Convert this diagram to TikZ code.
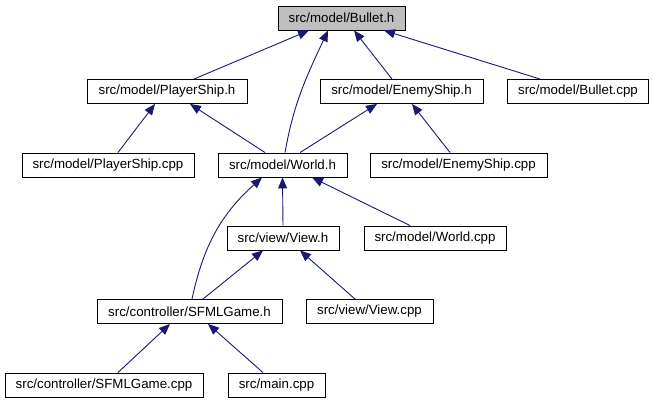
\documentclass[tikz,border=0pt]{standalone}
\usepackage{fontspec}
\setmainfont{Liberation Sans}
\usetikzlibrary{arrows.meta,calc}
\definecolor{incl}{RGB}{25,25,112}
\tikzset {
  >={Triangle[length=11pt,width=9pt]},
  every node/.style={font=\fontsize{13.3}{16}\selectfont},
  file/.style={draw,line width=0.9pt,minimum height=24pt,inner sep=0pt},
  dep/.style={->,draw=incl,fill=none,line width=0.9pt},
}

\begin{document}
\begin{tikzpicture}[x=1pt,y=-1pt]
  \useasboundingbox (0,0) rectangle (654,403);
  % files
  \node[file,fill=gray!50,minimum width=127pt] (bullet_h) at (341.5,18) {src/model/Bullet.h};
  \node[file,minimum width=160pt] (pship_h) at (167,91.5) {src/model/PlayerShip.h};
  \node[file,minimum width=163pt] (eship_h) at (401.5,91.5) {src/model/EnemyShip.h};
  \node[file,minimum width=141pt] (bullet_cpp) at (578,91.5) {src/model/Bullet.cpp};
  \node[file,minimum width=172pt] (pship_cpp) at (108,165) {src/model/PlayerShip.cpp};
  \node[file,minimum width=129pt] (world_h) at (282.5,165) {src/model/World.h};
  \node[file,minimum width=177pt] (eship_cpp) at (458.5,165) {src/model/EnemyShip.cpp};
  \node[file,minimum width=112pt] (view_h) at (283,238) {src/view/View.h};
  \node[file,minimum width=142pt] (world_cpp) at (435,238) {src/model/World.cpp};
  \node[file,minimum width=185pt] (sfml_h) at (189.5,311.5) {src/controller/SFMLGame.h};
  \node[file,minimum width=127pt] (view_cpp) at (369.5,311.5) {src/view/View.cpp};
  \node[file,minimum width=198pt] (sfml_cpp) at (104,385) {src/controller/SFMLGame.cpp};
  \node[file,minimum width=97pt] (main_cpp) at (276.5,385) {src/main.cpp};
  % includes
  \draw[dep] ([xshift=27pt]pship_h.north) -- ([xshift=-32.5pt]bullet_h.south);
  \draw[dep] ([xshift=2.5pt]world_h.north) to[out=80,in=-115] ([xshift=-13.5pt]bullet_h.south);
  \draw[dep] ([xshift=-9.5pt]eship_h.north) -- ([xshift=12.5pt]bullet_h.south);
  \draw[dep] ([xshift=-38pt]bullet_cpp.north) -- ([xshift=42.5pt]bullet_h.south);
  \draw[dep] ([xshift=10pt]pship_cpp.north) -- ([xshift=-12pt]pship_h.south);
  \draw[dep] ([xshift=-17.5pt]world_h.north) -- ([xshift=23pt]pship_h.south);
  \draw[dep] ([xshift=17.5pt]world_h.north) -- ([xshift=-24.5pt]eship_h.south);
  \draw[dep] ([xshift=-8.5pt]eship_cpp.north) -- ([xshift=10.5pt]eship_h.south);
  \draw[dep] (view_h.north) -- (world_h.south);
  \draw[dep] ([xshift=2.5pt]sfml_h.north) to[out=78,in=-138] ([xshift=-20.5pt]world_h.south);
  \draw[dep] ([xshift=-25pt]world_cpp.north) -- ([xshift=29.5pt]world_h.south);
  \draw[dep] ([xshift=13.5pt]sfml_h.north) -- ([xshift=-20pt]view_h.south);
  \draw[dep] ([xshift=-14.5pt]view_cpp.north) -- ([xshift=17pt]view_h.south);
  \draw[dep] ([xshift=14pt]sfml_cpp.north) -- ([xshift=-19.5pt]sfml_h.south);
  \draw[dep] ([xshift=-13.5pt]main_cpp.north) -- ([xshift=18.5pt]sfml_h.south);
\end{tikzpicture}
\end{document}
